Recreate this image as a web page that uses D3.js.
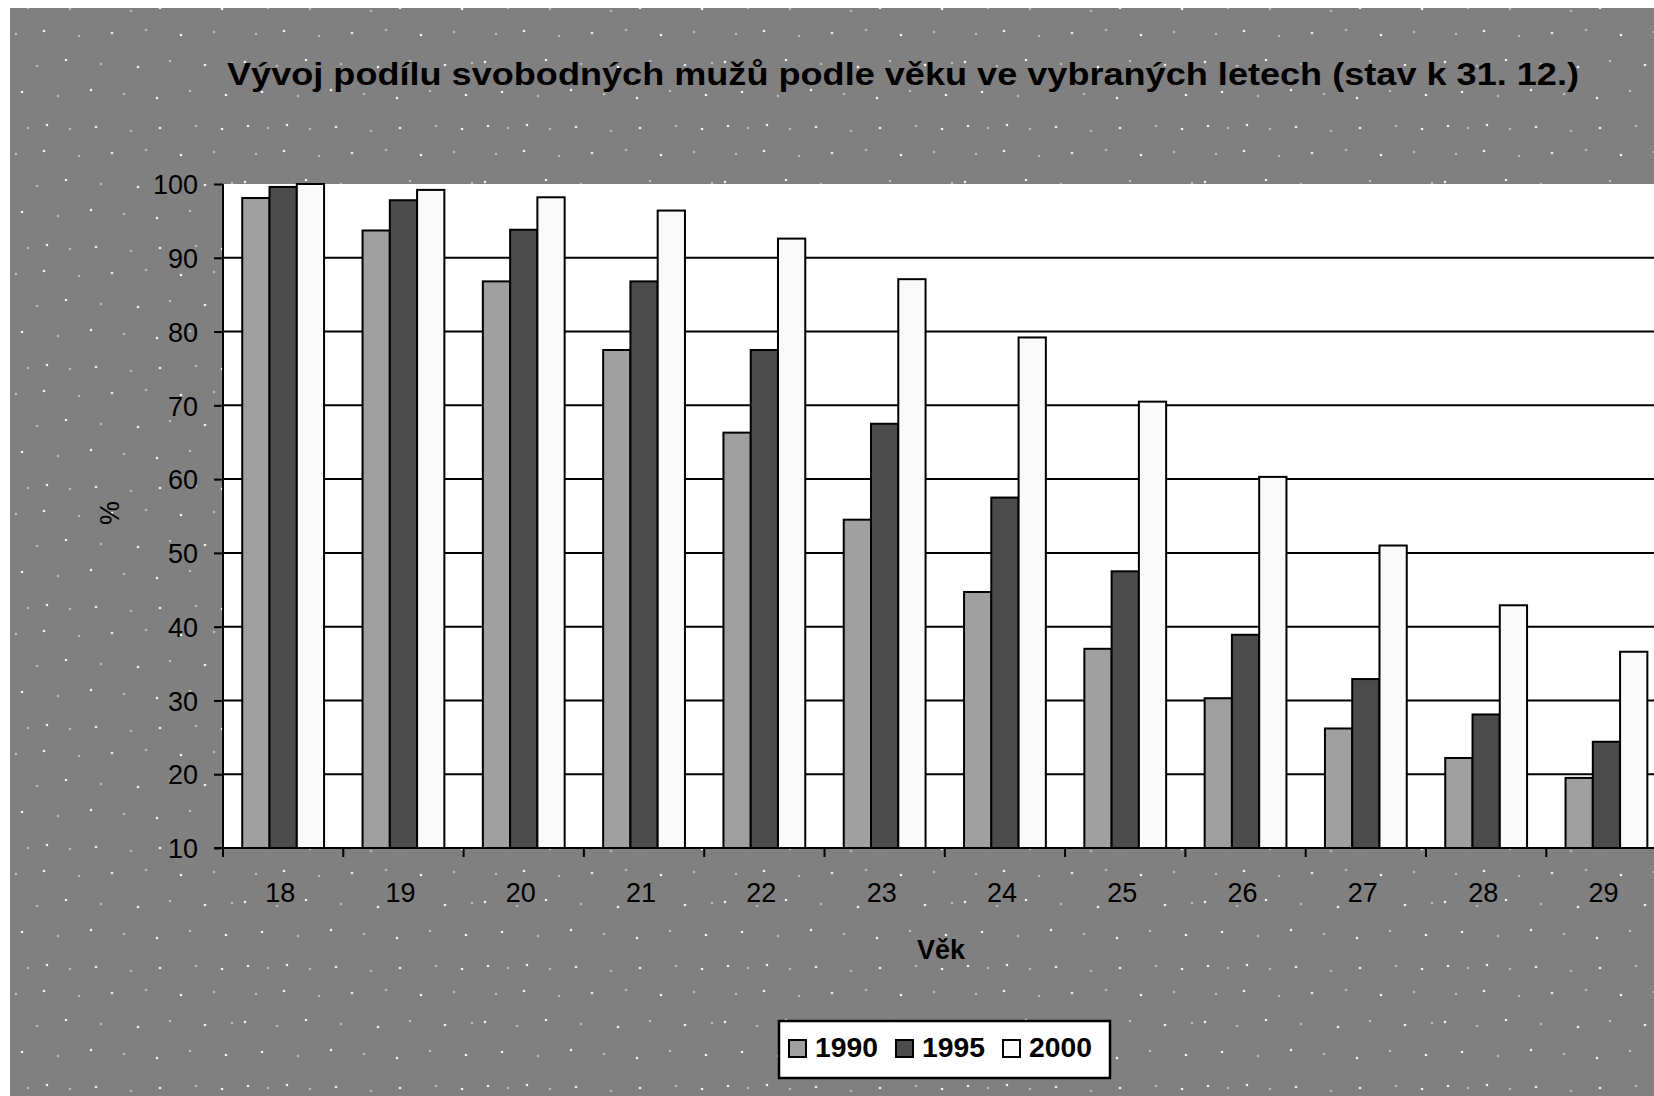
<!DOCTYPE html>
<html>
<head>
<meta charset="utf-8">
<script src="https://cdn.jsdelivr.net/npm/d3@7"></script>
<style>
  html, body { margin: 0; padding: 0; background: #fff; overflow: hidden; }
  svg { display: block; font-family: "Liberation Sans", Arial, sans-serif; }
</style>
</head>
<body>
<script>
// data
var ages = ['18', '19', '20', '21', '22', '23', '24', '25', '26', '27', '28', '29'];
var years = ['1990', '1995', '2000'];
var v1990 = [98.1, 93.7, 86.8, 77.5, 66.3, 54.5, 44.7, 37.0, 30.3, 26.2, 22.2, 19.5];
var v1995 = [99.6, 97.8, 93.8, 86.8, 77.5, 67.5, 57.5, 47.5, 38.9, 32.9, 28.1, 24.4];
var v2000 = [100.0, 99.2, 98.2, 96.4, 92.6, 87.1, 79.2, 70.5, 60.3, 51.0, 42.9, 36.6];
var yTicks = [10, 20, 30, 40, 50, 60, 70, 80, 90, 100];

var series = [v1990, v1995, v2000];
var colors = ['#a0a0a0', '#4b4b4b', '#fafafa'];

var W = 1654, H = 1096;
var plot = { left: 223, top: 184, bottom: 848, step: 120.3 };
plot.right = plot.left + plot.step * ages.length;

var svg = d3.select('body').append('svg')
    .attr('width', W)
    .attr('height', H);

// dotted background texture (sparse wavy rows of light dots)
var defs = svg.append('defs');
var pat = defs.append('pattern')
    .attr('id', 'dots')
    .attr('patternUnits', 'userSpaceOnUse')
    .attr('width', 240)
    .attr('height', 120);
pat.append('rect').attr('width', 240).attr('height', 120).attr('fill', '#808080');
var dotPos = [[8, 6, 1], [28, 8, 0.5], [47, 5, 1], [70, 9, 0.5], [96, 7, 1], [131, 11, 0.5], [160, 8, 1], [196, 6, 0.5], [222, 9, 1],
              [16, 34, 0.5], [44, 31, 1], [79, 36, 0.5], [112, 33, 1], [146, 30, 0.5], [181, 35, 1], [214, 32, 0.5],
              [5, 62, 1], [37, 66, 0.5], [66, 60, 1], [101, 64, 0.5], [138, 67, 1], [170, 61, 0.5], [205, 65, 1], [232, 63, 0.5],
              [22, 92, 1], [58, 96, 0.5], [91, 90, 1], [124, 94, 0.5], [157, 98, 1], [190, 91, 0.5], [226, 95, 1]];
pat.selectAll('circle').data(dotPos).enter().append('circle')
    .attr('cx', function (d) { return d[0]; })
    .attr('cy', function (d) { return d[1]; })
    .attr('r', 1.3)
    .attr('fill', '#fff')
    .attr('fill-opacity', function (d) { return d[2] > 0.7 ? 0.9 : 0.45; });

svg.append('rect')
    .attr('x', 10).attr('y', 8)
    .attr('width', W).attr('height', H)
    .attr('fill', 'url(#dots)');

// scales
var x0 = d3.scaleBand()
    .domain(ages)
    .range([plot.left, plot.right])
    .paddingInner(0.32)
    .paddingOuter(0.16);

var x1 = d3.scaleBand()
    .domain(years)
    .range([0, x0.bandwidth()]);

var y = d3.scaleLinear()
    .domain([10, 100])
    .range([plot.bottom, plot.top]);

// plot area
svg.append('rect')
    .attr('x', plot.left).attr('y', plot.top)
    .attr('width', plot.right - plot.left)
    .attr('height', plot.bottom - plot.top)
    .attr('fill', '#fff');

// gridlines
svg.append('g')
    .selectAll('line')
    .data(yTicks.filter(function (t) { return t > 10 && t < 100; }))
    .enter().append('line')
    .attr('x1', plot.left).attr('x2', plot.right)
    .attr('y1', function (d) { return y(d); })
    .attr('y2', function (d) { return y(d); })
    .attr('stroke', '#000')
    .attr('stroke-width', 2);

// bars
var groups = svg.append('g').selectAll('g')
    .data(ages)
    .enter().append('g')
    .attr('transform', function (d) { return 'translate(' + x0(d) + ',0)'; });

groups.selectAll('rect')
    .data(function (d, i) {
        return years.map(function (yr, k) { return { year: yr, value: series[k][i], k: k }; });
    })
    .enter().append('rect')
    .attr('x', function (d) { return x1(d.year); })
    .attr('y', function (d) { return y(d.value); })
    .attr('width', x1.bandwidth())
    .attr('height', function (d) { return plot.bottom - y(d.value); })
    .attr('fill', function (d) { return colors[d.k]; })
    .attr('stroke', '#000')
    .attr('stroke-width', 2);

// y axis
var yAxis = svg.append('g')
    .attr('transform', 'translate(' + plot.left + ',0)')
    .call(d3.axisLeft(y).tickValues(yTicks).tickSize(9).tickPadding(16).tickFormat(d3.format('d')));
yAxis.select('.domain').attr('stroke-width', 2).attr('d', 'M0,' + plot.top + 'V' + plot.bottom);
yAxis.selectAll('.tick line').attr('stroke-width', 2);
yAxis.selectAll('.tick text')
    .attr('font-size', 27)
    .attr('fill', '#000')
    .attr('dy', '0.36em');

// x axis
svg.append('line')
    .attr('x1', plot.left - 9).attr('x2', plot.right)
    .attr('y1', plot.bottom).attr('y2', plot.bottom)
    .attr('stroke', '#000').attr('stroke-width', 2);

svg.append('g').selectAll('line')
    .data(ages)
    .enter().append('line')
    .attr('x1', function (d) { return x0(d) - x0.step() * 0.16; })
    .attr('x2', function (d) { return x0(d) - x0.step() * 0.16; })
    .attr('y1', plot.bottom)
    .attr('y2', plot.bottom + 9)
    .attr('stroke', '#000').attr('stroke-width', 2);

svg.append('g').selectAll('text')
    .data(ages)
    .enter().append('text')
    .attr('x', function (d) { return x0(d) + x0.bandwidth() / 2 - 3; })
    .attr('y', 902)
    .attr('text-anchor', 'middle')
    .attr('font-size', 27)
    .text(function (d) { return d; });

// titles
svg.append('text')
    .attr('x', 227).attr('y', 85)
    .attr('font-size', 31)
    .attr('font-weight', 'bold')
    .attr('textLength', 1352)
    .attr('lengthAdjust', 'spacingAndGlyphs')
    .text('Vývoj podílu svobodných mužů podle věku ve vybraných letech (stav k 31. 12.)');

svg.append('text')
    .attr('x', 941).attr('y', 959)
    .attr('text-anchor', 'middle')
    .attr('font-size', 27)
    .attr('font-weight', 'bold')
    .text('Věk');

svg.append('text')
    .attr('transform', 'translate(119,513) rotate(-90)')
    .attr('text-anchor', 'middle')
    .attr('font-size', 27)
    .text('%');

// legend
var legend = svg.append('g');
legend.append('rect')
    .attr('x', 779).attr('y', 1021)
    .attr('width', 331).attr('height', 57)
    .attr('fill', '#fff')
    .attr('stroke', '#000')
    .attr('stroke-width', 2.5);

var legX = [789, 896, 1003];
var items = legend.selectAll('g.item')
    .data(years)
    .enter().append('g')
    .attr('class', 'item')
    .attr('transform', function (d, i) { return 'translate(' + legX[i] + ',0)'; });

items.append('rect')
    .attr('x', 0).attr('y', 1040)
    .attr('width', 17).attr('height', 17)
    .attr('fill', function (d, i) { return colors[i]; })
    .attr('stroke', '#000')
    .attr('stroke-width', 2);

items.append('text')
    .attr('x', 26).attr('y', 1057)
    .attr('font-size', 27)
    .attr('font-weight', 'bold')
    .attr('textLength', 63)
    .attr('lengthAdjust', 'spacingAndGlyphs')
    .text(function (d) { return d; });
</script>
</body>
</html>
